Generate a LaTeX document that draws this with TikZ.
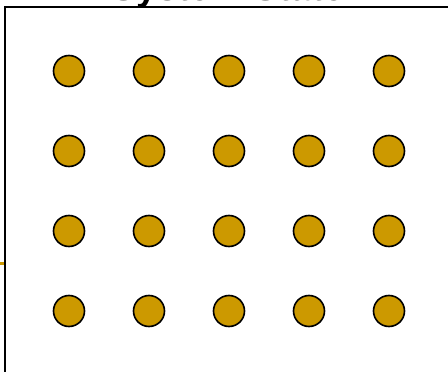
\documentclass[tikz,border=0pt]{standalone}
\usepackage{fontspec}
\setmainfont{Liberation Sans}
\usetikzlibrary{positioning}
\definecolor{StateGold}{HTML}{CC9900}
\tikzset{
  stateball/.style={circle, draw=black, line width=1.6pt, fill=StateGold,
             minimum size=31pt, inner sep=0pt},
  frame/.style={line width=2pt, draw=black},
  ptitle/.style={font=\fontsize{37}{40}\selectfont\bfseries, anchor=base, inner sep=0pt},
}
\begin{document}
\begin{tikzpicture}[x=1pt, y=-1pt]
  \useasboundingbox (0,0) rectangle (448,372);
  \clip (0,0) rectangle (448,372);
  % title, cut off by the page edge
  \node[ptitle] (title) at (228,1) {System State};
  % slide frame
  \draw[frame] (5,380) -- (5,7) -- (460,7);
  % stub of a connector from the left
  \coordinate (stubA) at (-5,263);
  \coordinate (stubB) at (4,263);
  \draw[line width=3pt, draw=StateGold] (stubA) -- (stubB);
  % grid of states
  \foreach \i in {0,...,4}{
    \foreach \j in {0,...,3}{
      \node[stateball] (s\i\j) at (69+80*\i, 71+80*\j) {};
    }
  }
\end{tikzpicture}
\end{document}
